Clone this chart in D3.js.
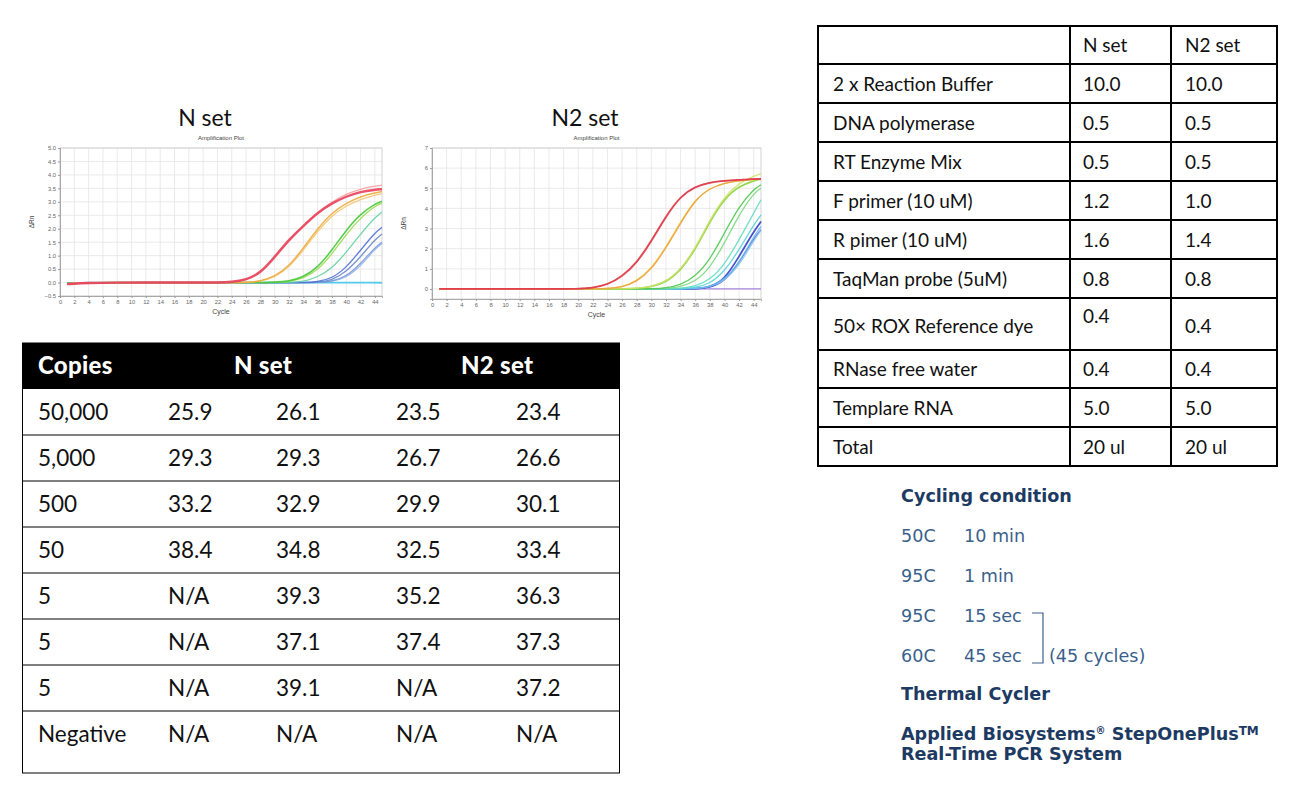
<!DOCTYPE html>
<html>
<head>
<meta charset="utf-8">
<script src="https://d3js.org/d3.v7.min.js"></script>
<style>
  body { margin: 0; background: #fff; }
  svg { display: block; }
</style>
</head>
<body>
<div id="chart"></div>
<script>
// sample cycles shared by every amplification curve
var cycles = [1, 4, 8, 12, 16, 20, 22, 24, 26, 28, 30, 32, 34, 36, 38, 40, 42, 44, 45];

// N set curves (delta Rn)
var nRed1    = [-0.06, -0.01, 0, 0, 0, 0, 0, 0.02, 0.1, 0.35, 0.95, 1.6, 2.1, 2.6, 2.95, 3.2, 3.38, 3.45, 3.47];
var nRed2    = [-0.04, 0, 0, 0, 0, 0, 0, 0.02, 0.08, 0.32, 0.9, 1.55, 2.1, 2.6, 3.0, 3.3, 3.48, 3.58, 3.62];
var nOrange1 = [-0.05, 0, 0, 0, 0, 0, 0, 0, 0, 0.05, 0.22, 0.6, 1.28, 2.0, 2.6, 2.95, 3.2, 3.33, 3.38];
var nOrange2 = [-0.05, 0, 0, 0, 0, 0, 0, 0, 0, 0.04, 0.2, 0.55, 1.2, 1.9, 2.5, 2.85, 3.1, 3.25, 3.3];
var nGreen1  = [-0.03, 0, 0, 0, 0, 0, 0, 0, 0, 0, 0.01, 0.05, 0.2, 0.55, 1.2, 1.95, 2.55, 2.92, 3.02];
var nGreen2  = [-0.03, 0, 0, 0, 0, 0, 0, 0, 0, 0, 0, 0.03, 0.15, 0.45, 1.05, 1.8, 2.4, 2.85, 2.95];
var nTeal    = [-0.03, 0, 0, 0, 0, 0, 0, 0, 0, 0, 0, 0, 0.03, 0.2, 0.52, 1.12, 1.8, 2.42, 2.62];
var nBlue1   = [-0.02, 0, 0, 0, 0, 0, 0, 0, 0, 0, 0, 0, 0, 0.03, 0.15, 0.55, 1.2, 1.85, 2.05];
var nBlue2   = [-0.02, 0, 0, 0, 0, 0, 0, 0, 0, 0, 0, 0, 0, 0, 0.08, 0.4, 0.95, 1.6, 1.8];
var nBlue3   = [-0.02, 0, 0, 0, 0, 0, 0, 0, 0, 0, 0, 0, 0, 0, 0.04, 0.22, 0.7, 1.3, 1.5];
var nBlue4   = [-0.02, 0, 0, 0, 0, 0, 0, 0, 0, 0, 0, 0, 0, 0, 0.03, 0.18, 0.6, 1.25, 1.45];
var nFlat    = [-0.02, 0, 0, 0, 0, 0, 0, 0, 0, 0, 0, 0, 0, 0, 0, 0, 0, 0, -0.01];

// N2 set curves
var n2Red1    = [0, 0, 0, 0, 0, 0, 0.05, 0.2, 0.6, 1.28, 2.35, 3.6, 4.6, 5.09, 5.29, 5.37, 5.42, 5.46, 5.47];
var n2Red2    = [0, 0, 0, 0, 0, 0, 0.06, 0.22, 0.63, 1.32, 2.4, 3.65, 4.62, 5.1, 5.3, 5.38, 5.42, 5.44, 5.45];
var n2Orange  = [0, 0, 0, 0, 0, 0, 0, 0.02, 0.08, 0.36, 0.95, 2.02, 3.27, 4.43, 5.0, 5.26, 5.39, 5.46, 5.48];
var n2Yellow  = [0, 0, 0, 0, 0, 0, 0, 0.02, 0.09, 0.38, 1.0, 2.08, 3.33, 4.45, 5.0, 5.25, 5.36, 5.42, 5.44];
var n2Lime1   = [0, 0, 0, 0, 0, 0, 0, 0, 0, 0.03, 0.12, 0.36, 0.95, 2.02, 3.43, 4.6, 5.26, 5.6, 5.72];
var n2Lime2   = [0, 0, 0, 0, 0, 0, 0, 0, 0, 0.02, 0.1, 0.33, 0.9, 1.95, 3.35, 4.5, 5.1, 5.38, 5.45];
var n2Green1  = [0, 0, 0, 0, 0, 0, 0, 0, 0, 0, 0.01, 0.05, 0.2, 0.61, 1.44, 2.77, 4.1, 4.96, 5.17];
var n2Green2  = [0, 0, 0, 0, 0, 0, 0, 0, 0, 0, 0, 0.02, 0.1, 0.36, 1.03, 2.27, 3.68, 4.76, 5.0];
var n2Cyan1   = [0, 0, 0, 0, 0, 0, 0, 0, 0, 0, 0, 0, 0.03, 0.12, 0.45, 1.19, 2.44, 3.76, 4.43];
var n2Cyan2   = [0, 0, 0, 0, 0, 0, 0, 0, 0, 0, 0, 0, 0.01, 0.06, 0.25, 0.86, 1.94, 3.18, 3.68];
var n2Sky1    = [0, 0, 0, 0, 0, 0, 0, 0, 0, 0, 0, 0, 0, 0.02, 0.1, 0.45, 1.28, 2.6, 3.1];
var n2Sky2    = [0, 0, 0, 0, 0, 0, 0, 0, 0, 0, 0, 0, 0, 0.02, 0.08, 0.4, 1.15, 2.4, 2.9];
var n2Blue1   = [0, 0, 0, 0, 0, 0, 0, 0, 0, 0, 0, 0, 0, 0.01, 0.08, 0.45, 1.6, 2.85, 3.35];
var n2Blue2   = [0, 0, 0, 0, 0, 0, 0, 0, 0, 0, 0, 0, 0, 0.01, 0.05, 0.35, 1.3, 2.5, 2.95];
var n2Flat    = [0, 0, 0, 0, 0, 0, 0, 0, 0, 0, 0, 0, 0, 0, 0, 0, 0, 0, 0];

// axis ticks
var cycleTicks = d3.range(0, 45, 2);
var nSetYTicks = [-0.5, 0, 0.5, 1, 1.5, 2, 2.5, 3, 3.5, 4, 4.5, 5];
var n2SetYTicks = [0, 1, 2, 3, 4, 5, 6, 7];

// Ct table
var ctHeader = ["Copies", "N set", "N2 set"];
var copies   = ["50,000", "5,000", "500", "50", "5", "5", "5", "Negative"];
var nSetRep1 = ["25.9", "29.3", "33.2", "38.4", "N/A", "N/A", "N/A", "N/A"];
var nSetRep2 = ["26.1", "29.3", "32.9", "34.8", "39.3", "37.1", "39.1", "N/A"];
var n2SetRep1 = ["23.5", "26.7", "29.9", "32.5", "35.2", "37.4", "N/A", "N/A"];
var n2SetRep2 = ["23.4", "26.6", "30.1", "33.4", "36.3", "37.3", "37.2", "N/A"];

// reaction mix table
var mixHeader = ["", "N set", "N2 set"];
var reagents = ["2 x Reaction Buffer", "DNA polymerase", "RT Enzyme Mix", "F primer (10 uM)",
  "R pimer (10 uM)", "TaqMan probe (5uM)", "50\u00d7 ROX Reference dye", "RNase free water",
  "Templare RNA", "Total"];
var nSetVolume  = ["10.0", "0.5", "0.5", "1.2", "1.6", "0.8", "0.4", "0.4", "5.0", "20 ul"];
var n2SetVolume = ["10.0", "0.5", "0.5", "1.0", "1.4", "0.8", "0.4", "0.4", "5.0", "20 ul"];

// cycling condition
var stepTemps = ["50C", "95C", "95C", "60C"];
var stepTimes = ["10 min", "1 min", "15 sec", "45 sec"];

var W = 1297, H = 799;
var gill = "Lato, 'Open Sans', sans-serif";
var verd = "'DejaVu Sans', Verdana, sans-serif";

var svg = d3.select("#chart").append("svg")
  .attr("width", W).attr("height", H)
  .style("background", "#fff");

// ---------- amplification plots ----------
function ampPlot(opt) {
  var x = d3.scaleLinear().domain([0, 45]).range([opt.left, opt.right]);
  var y = d3.scaleLinear().domain(opt.yDomain).range([opt.bottom, opt.top]);
  var g = svg.append("g");

  g.append("text").attr("x", opt.titleX).attr("y", opt.top - 22)
    .attr("text-anchor", "middle").attr("font-family", gill).attr("font-size", 23)
    .attr("fill", "#111").text(opt.title);
  g.append("text").attr("x", (opt.left + opt.right) / 2).attr("y", opt.top - 8)
    .attr("text-anchor", "middle").attr("font-family", "'Liberation Sans', Arial")
    .attr("font-size", 6).attr("fill", "#444").text("Amplification Plot");

  // grid
  g.selectAll(".vg").data(cycleTicks).enter().append("line")
    .attr("x1", d => x(d)).attr("x2", d => x(d))
    .attr("y1", opt.top).attr("y2", opt.bottom)
    .attr("stroke", "#e4e4e4").attr("stroke-width", 0.8);
  g.selectAll(".hg").data(opt.yTicks).enter().append("line")
    .attr("x1", opt.left).attr("x2", opt.right)
    .attr("y1", d => y(d)).attr("y2", d => y(d))
    .attr("stroke", "#e4e4e4").attr("stroke-width", 0.8);
  g.append("rect").attr("x", opt.left).attr("y", opt.top)
    .attr("width", opt.right - opt.left).attr("height", opt.bottom - opt.top)
    .attr("fill", "none").attr("stroke", "#c8c8c8").attr("stroke-width", 0.8);

  var xAxis = g.append("g").attr("transform", "translate(0," + opt.bottom + ")")
    .call(d3.axisBottom(x).tickValues(cycleTicks).tickSize(2).tickPadding(2));
  var yAxis = g.append("g").attr("transform", "translate(" + opt.left + ",0)")
    .call(d3.axisLeft(y).tickValues(opt.yTicks).tickSize(2).tickPadding(2).tickFormat(opt.fmt));
  [xAxis, yAxis].forEach(function (a) {
    a.select(".domain").attr("stroke", "#999").attr("stroke-width", 0.8);
    a.selectAll(".tick line").attr("stroke", "#999");
    a.selectAll(".tick text").attr("font-size", 5.8).attr("fill", "#666")
      .attr("font-family", "'Liberation Sans', Arial");
  });

  g.append("text").attr("x", (opt.left + opt.right) / 2).attr("y", opt.bottom + 18)
    .attr("text-anchor", "middle").attr("font-family", "'Liberation Sans', Arial")
    .attr("font-size", 7).attr("fill", "#444").text("Cycle");
  g.append("text")
    .attr("transform", "translate(" + (opt.left - 26) + "," + ((opt.top + opt.bottom) / 2) + ") rotate(-90)")
    .attr("text-anchor", "middle").attr("font-family", "'Liberation Sans', Arial")
    .attr("font-size", 6.5).attr("fill", "#444").text("\u0394Rn");

  var line = d3.line()
    .x(function (d, i) { return x(cycles[i]); })
    .y(function (d) { return y(d); })
    .curve(d3.curveBasis);

  g.selectAll(".amp").data(opt.series).enter().append("path")
    .attr("d", d => line(d.values))
    .attr("fill", "none")
    .attr("stroke", d => d.color)
    .attr("stroke-width", d => d.width || 1.3)
    .attr("stroke-opacity", 0.9);
}

ampPlot({
  title: "N set", titleX: 205,
  left: 60, right: 382, top: 148, bottom: 296,
  yDomain: [-0.5, 5.0], yTicks: nSetYTicks, fmt: d3.format(".1f"),
  series: [
    { values: nFlat, color: "#3fc8ea", width: 1.8 },
    { values: nBlue4, color: "#8fb2e6" },
    { values: nBlue3, color: "#7a98dc" },
    { values: nBlue2, color: "#6c88c9" },
    { values: nBlue1, color: "#4f6fd8" },
    { values: nTeal, color: "#63d0a0" },
    { values: nGreen2, color: "#9ad84c" },
    { values: nGreen1, color: "#45c93a", width: 1.6 },
    { values: nOrange2, color: "#f3c870" },
    { values: nOrange1, color: "#eeaa3e", width: 1.5 },
    { values: nRed2, color: "#f4a0a0" },
    { values: nRed1, color: "#e8405a", width: 2.4 }
  ]
});

ampPlot({
  title: "N2 set", titleX: 585,
  left: 432, right: 761, top: 148, bottom: 299,
  yDomain: [-0.5, 7], yTicks: n2SetYTicks, fmt: d3.format("d"),
  series: [
    { values: n2Flat, color: "#a07ae0", width: 1.3 },
    { values: n2Blue2, color: "#5a6ed8" },
    { values: n2Blue1, color: "#3640c8", width: 1.8 },
    { values: n2Sky2, color: "#8cc4f0" },
    { values: n2Sky1, color: "#62b6ec" },
    { values: n2Cyan2, color: "#58d4d8" },
    { values: n2Cyan1, color: "#62dcc0" },
    { values: n2Green2, color: "#7ad880" },
    { values: n2Green1, color: "#4ec84e" },
    { values: n2Lime2, color: "#8cd440", width: 1.8 },
    { values: n2Lime1, color: "#d2e36a" },
    { values: n2Yellow, color: "#e8d040" },
    { values: n2Orange, color: "#eea040" },
    { values: n2Red2, color: "#e67050" },
    { values: n2Red1, color: "#e03a50", width: 1.7 }
  ]
});

// ---------- Ct table ----------
var ct = svg.append("g");
var ctLeft = 22, ctRight = 620, ctTop = 343, ctHeadH = 46, ctRowH = 46, ctBottom = 773;
var ctCols = [38, 168, 276, 396, 516];
ct.append("rect").attr("x", ctLeft).attr("y", ctTop)
  .attr("width", ctRight - ctLeft).attr("height", ctHeadH).attr("fill", "#000");
var ctHeadX = [38, 234, 461];
ct.selectAll(".ch").data(ctHeader).enter().append("text")
  .attr("x", (d, i) => ctHeadX[i]).attr("y", ctTop + ctHeadH / 2 + 8)
  .attr("font-family", gill).attr("font-weight", 900).attr("font-size", 24)
  .attr("letter-spacing", 0.3)
  .attr("fill", "#fff").text(d => d);

var ctRows = copies.map(function (c, i) {
  return [c, nSetRep1[i], nSetRep2[i], n2SetRep1[i], n2SetRep2[i]];
});
ct.append("rect").attr("x", ctLeft + 0.5).attr("y", ctTop)
  .attr("width", ctRight - ctLeft - 1).attr("height", ctBottom - ctTop)
  .attr("fill", "none").attr("stroke", "#000").attr("stroke-width", 1);
ctRows.forEach(function (row, i) {
  var y0 = ctTop + ctHeadH + i * ctRowH;
  if (i > 0) {
    ct.append("line").attr("x1", ctLeft).attr("x2", ctRight)
      .attr("y1", y0).attr("y2", y0).attr("stroke", "#000").attr("stroke-width", 1);
  }
  ct.selectAll(null).data(row).enter().append("text")
    .attr("x", (d, j) => ctCols[j]).attr("y", y0 + ctRowH / 2 + 8)
    .attr("font-family", gill).attr("font-size", 22.5).attr("fill", "#111")
    .text(d => d);
});

// ---------- reaction mix table ----------
var mx = svg.append("g");
var mxCols = [818, 1070, 1171, 1277];
var mxRowH = [38, 39, 39, 39, 39, 39, 39, 52, 38, 39, 39];
var mxTop = 26;
var mxRows = [mixHeader].concat(reagents.map(function (r, i) {
  return [r, nSetVolume[i], n2SetVolume[i]];
}));
var yEdges = [mxTop];
mxRowH.forEach(function (h) { yEdges.push(yEdges[yEdges.length - 1] + h); });
yEdges.forEach(function (yy) {
  mx.append("line").attr("x1", mxCols[0] - 1).attr("x2", mxCols[3] + 1)
    .attr("y1", yy).attr("y2", yy).attr("stroke", "#000").attr("stroke-width", 2);
});
mxCols.forEach(function (xx) {
  mx.append("line").attr("x1", xx).attr("x2", xx)
    .attr("y1", mxTop).attr("y2", yEdges[yEdges.length - 1])
    .attr("stroke", "#000").attr("stroke-width", 2);
});
var mxTextX = [833, 1083, 1185];
mxRows.forEach(function (row, i) {
  var mid = (yEdges[i] + yEdges[i + 1]) / 2;
  mx.selectAll(null).data(row).enter().append("text")
    .attr("x", (d, j) => mxTextX[j])
    .attr("y", function (d, j) {
      // ROX row: the N set value sits higher in the cell
      if (row[0] === reagents[6]) return j === 1 ? mid - 1 : mid + 9;
      return mid + 7;
    })
    .attr("font-family", gill).attr("font-size", 19).attr("fill", "#111")
    .text(d => d);
});

// ---------- cycling condition ----------
var cc = svg.append("g").attr("font-family", verd);
var navy = "#1d3a63", steel = "#3b5f8c";
var fs = 17.6;
cc.append("text").attr("x", 901).attr("y", 502).attr("font-size", fs)
  .attr("font-weight", "bold").attr("fill", navy).text("Cycling condition");
stepTemps.forEach(function (t, i) {
  var yy = 542 + i * 40;
  cc.append("text").attr("x", 901).attr("y", yy).attr("font-size", fs)
    .attr("fill", steel).text(t);
  cc.append("text").attr("x", 964).attr("y", yy).attr("font-size", fs)
    .attr("fill", steel).text(stepTimes[i]);
});
cc.append("path").attr("d", "M1032,613 H1043 V663 H1032")
  .attr("fill", "none").attr("stroke", steel).attr("stroke-width", 1.2);
cc.append("text").attr("x", 1049).attr("y", 662).attr("font-size", fs)
  .attr("fill", steel).text("(45 cycles)");
cc.append("text").attr("x", 901).attr("y", 700).attr("font-size", fs)
  .attr("font-weight", "bold").attr("fill", navy).text("Thermal Cycler");
var ab = cc.append("text").attr("x", 901).attr("y", 740).attr("font-size", fs)
  .attr("font-weight", "bold").attr("fill", navy);
ab.append("tspan").text("Applied Biosystems");
ab.append("tspan").attr("font-size", 10).attr("dy", -6).text("\u00ae");
ab.append("tspan").attr("dy", 6).text(" StepOnePlus");
ab.append("tspan").attr("font-size", 12).attr("dy", -5).text("TM");
cc.append("text").attr("x", 901).attr("y", 760).attr("font-size", fs)
  .attr("font-weight", "bold").attr("fill", navy).text("Real-Time PCR System");
</script>
</body>
</html>
